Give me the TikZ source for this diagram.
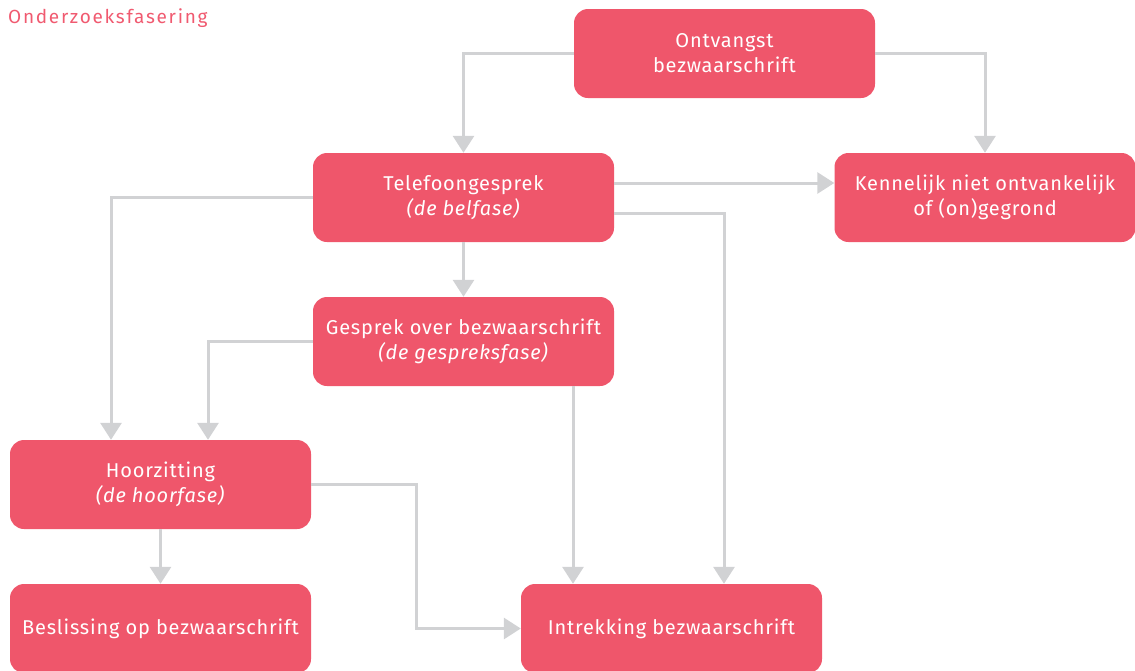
\documentclass[tikz,border=0pt]{standalone}
\usepackage{fontspec}
\setmainfont{Fira Sans}
\newfontfamily\boxfont[LetterSpace=4]{Fira Sans}
\newfontfamily\titlefont[LetterSpace=9]{Fira Sans}
\usetikzlibrary{arrows.meta,calc}
\definecolor{boxred}{HTML}{EF566B}
\definecolor{titlered}{HTML}{F05A70}
\definecolor{linegray}{HTML}{D1D2D4}
\tikzset{
  stepbox/.style={fill=boxred, rounded corners=14pt, minimum width=301pt, minimum height=89pt,
    inner sep=0pt, text=white, align=center, font=\boxfont\fontsize{20}{25}\selectfont},
  conn/.style={draw=linegray, line width=3pt, -{Triangle[width=21pt,length=17pt]}},
}
\begin{document}
\begin{tikzpicture}[x=1pt,y=-1pt]
\useasboundingbox (0,0) rectangle (1135,670);
\clip (0,0) rectangle (1135,670);
\node[anchor=west, text=titlered, font=\titlefont\fontsize{19}{22}\selectfont, inner sep=0pt] (title) at (8,18) {Onderzoeksfasering};

\node[stepbox] (ont) at (724.5,53.5) {Ontvangst\\bezwaarschrift};
\node[stepbox] (tel) at (463.5,197.5) {Telefoongesprek\\\textit{(de belfase)}};
\node[stepbox] (ken) at (985,197.5) {Kennelijk niet ontvankelijk\\of (on)gegrond};
\node[stepbox] (ges) at (463.5,341.5) {Gesprek over bezwaarschrift\\\textit{(de gespreksfase)}};
\node[stepbox] (hoor) at (160.5,484.5) {Hoorzitting\\\textit{(de hoorfase)}};
\node[stepbox] (bes) at (160.5,628.5) {Beslissing op bezwaarschrift};
\node[stepbox] (int) at (671.5,628.5) {Intrekking bezwaarschrift};

\coordinate (hbend) at (416.5,484.5);

\draw[conn] (ont.west) -| (tel.north);
\draw[conn] (ont.east) -| (ken.north);
\draw[conn] ([yshift=14.5pt]tel.east) -- ([yshift=14.5pt]ken.west);
\draw[conn] ([yshift=-15.5pt]tel.east) -| ([xshift=52.5pt]int.north);
\draw[conn] (tel.west) -| ([xshift=-49.5pt]hoor.north);
\draw[conn] (tel.south) -- (ges.north);
\draw[conn] (ges.west) -| ([xshift=47.5pt]hoor.north);
\draw[conn] ([xshift=109.5pt]ges.south) -- ([xshift=-98.5pt]int.north);
\draw[conn] (hoor.east) -- (hbend) |- (int.west);
\draw[conn] (hoor.south) -- (bes.north);
\end{tikzpicture}
\end{document}
